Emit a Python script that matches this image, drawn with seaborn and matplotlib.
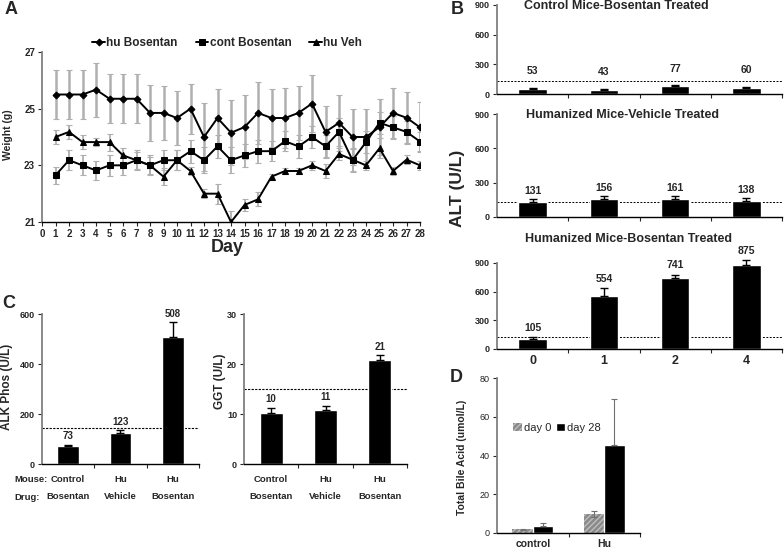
import matplotlib

matplotlib.use("Agg")

import matplotlib.pyplot as plt
import numpy as np
import pandas as pd
import seaborn as sns

W, H = 784, 551

# ---- panel A: body weight ----
days = list(range(1, 29))
hu_bos = [25.5, 25.5, 25.5, 25.67, 25.35, 25.35, 25.35, 24.85, 24.85, 24.67, 25.0, 24.0, 24.67, 24.15,
          24.35, 24.85, 24.67, 24.67, 24.85, 25.18, 24.18, 24.5, 24.0, 24.0, 24.35, 24.85, 24.68, 24.34]
hu_bos_err = [0.88, 0.85, 0.85, 0.95, 0.87, 0.87, 0.87, 1.0, 0.95, 0.95, 0.88, 1.2, 1.03, 1.15,
              1.12, 1.09, 1.03, 1.05, 0.95, 1.0, 0.9, 1.0, 1.0, 1.0, 1.0, 0.88, 0.92, 0.88]
cont_bos = [22.65, 23.18, 23.0, 22.82, 23.0, 23.0, 23.18, 23.0, 23.18, 23.18, 23.5, 23.18, 23.67, 23.18,
            23.35, 23.5, 23.5, 23.85, 23.67, 24.0, 23.67, 24.18, 23.18, 23.82, 24.5, 24.34, 24.18, 23.84]
cont_bos_err = [0.3, 0.35, 0.35, 0.32, 0.37, 0.35, 0.35, 0.35, 0.35, 0.35, 0.4, 0.45, 0.4, 0.45,
                0.4, 0.4, 0.35, 0.35, 0.4, 0.4, 0.4, 0.5, 0.4, 0.4, 0.4, 0.4, 0.4, 0.35]
hu_veh = [24.0, 24.18, 23.82, 23.82, 23.82, 23.35, 23.18, 23.0, 22.6, 23.18, 22.8, 22.0, 22.0, 21.0,
          21.6, 21.8, 22.6, 22.8, 22.8, 23.0, 22.8, 23.4, 23.2, 23.0, 23.6, 22.8, 23.2, 23.0]
hu_veh_err = [0.25, 0.25, 0.25, 0.15, 0.3, 0.25, 0.3, 0.3, 0.3, 0.35, 0.15, 0.15, 0.35, 0.4,
              0.2, 0.25, 0.1, 0.1, 0.1, 0.15, 0.25, 0.2, 0.4, 0.15, 0.35, 0.15, 0.15, 0.15]

# ---- panel B: ALT by week ----
weeks = ["0", "1", "2", "4"]
alt_cont_bos = [53, 43, 77, 60]
alt_cont_bos_err = [8, 6, 10, 8]
alt_hu_veh = [131, 156, 161, 138]
alt_hu_veh_err = [25, 24, 26, 24]
alt_hu_bos = [105, 554, 741, 875]
alt_hu_bos_err = [20, 84, 38, 59]
alt_normal = 130

# ---- panel C: ALK Phos and GGT ----
c_mouse = ["Control", "Hu", "Hu"]
c_drug = ["Bosentan", "Vehicle", "Bosentan"]
alk_vals = [73, 126, 508]
alk_err = [5, 10, 60]
alk_labels = ["73", "123", "508"]
alk_normal = 145
ggt_vals = [10.3, 10.8, 20.9]
ggt_err = [1.0, 0.85, 0.9]
ggt_labels = ["10", "11", "21"]
ggt_normal = 15

# ---- panel D: total bile acid ----
d_groups = ["control", "Hu"]
d_days = ["day 0", "day 28"]
bile_day0 = [2.0, 10.0]
bile_day0_err = [0.3, 1.6]
bile_day28 = [3.4, 45.5]
bile_day28_err = [1.8, 23.8]

sns.set_style("white")
plt.rcParams["font.family"] = ["Liberation Sans", "DejaVu Sans"]
plt.rcParams["font.weight"] = "bold"
plt.rcParams["axes.labelweight"] = "bold"

fig = plt.figure(figsize=(W / 100, H / 100), dpi=100)


def box(l, t, r, b):
    return fig.add_axes([l / W, 1 - b / H, (r - l) / W, (b - t) / H])


def style_axes(ax, size=6.5):
    sns.despine(ax=ax)
    ax.spines["left"].set_color("#808080")
    ax.spines["left"].set_linewidth(1.3)
    ax.spines["bottom"].set_color("black")
    ax.spines["bottom"].set_linewidth(1.0)
    ax.tick_params(axis="both", labelsize=size, length=3, width=0.8, pad=2,
                   bottom=True, left=True, direction="out")
    ax.set_xlabel("")
    ax.set_ylabel("")


def bold_ticks(ax, weight="bold"):
    for lab in ax.get_xticklabels() + ax.get_yticklabels():
        lab.set_fontweight(weight)


def category_ticks(ax, n, labels=None, size=9):
    ax.set_xlim(-0.5, n - 0.5)
    ax.set_xticks(np.arange(n) + 0.5)
    ax.set_xticklabels([])
    ax.set_xticks(range(n), minor=True)
    ax.set_xticklabels(labels if labels else [""] * n, minor=True, fontsize=size, fontweight="bold")
    ax.tick_params(axis="x", which="minor", length=0, pad=4)


def up_errors(ax, errs, color="black", lw=1.0, cap=3):
    bars = ax.containers[0]
    xs = [b.get_x() + b.get_width() / 2 for b in bars]
    hs = [b.get_height() for b in bars]
    eb = ax.errorbar(xs, hs, yerr=[np.zeros(len(errs)), errs], fmt="none", ecolor=color,
                     elinewidth=lw, capsize=cap, capthick=lw, zorder=3)
    for art in eb.get_children():
        art.set_clip_on(False)
    return xs, hs


# ================= A =================
axA = box(42, 52, 420, 222)
series = [
    (hu_bos, hu_bos_err, "D", 3.5, "hu Bosentan", 1.8),
    (cont_bos, cont_bos_err, "s", 4.5, "cont Bosentan", 1.3),
    (hu_veh, hu_veh_err, "^", 4.5, "hu Veh", 1.3),
]
for vals, errs, mk, ms, lab, elw in series:
    axA.errorbar(days, vals, yerr=errs, fmt="none", ecolor="#b0b0b0", elinewidth=elw,
                 capsize=2.2, capthick=0.8, zorder=1)
    sns.lineplot(x=days, y=vals, marker=mk, markersize=ms, color="black", linewidth=1.4,
                 markeredgecolor="black", label=lab, ax=axA, zorder=3)
style_axes(axA, size=7)
axA.set_xlim(0, 28)
axA.set_ylim(21, 27)
axA.set_xticks(range(29))
axA.set_yticks([21, 23, 25, 27])
bold_ticks(axA)
axA.set_xlabel("Day", fontsize=13)
axA.xaxis.set_label_coords(0.49, -(248 - 222) / 170)
axA.xaxis.label.set_va("center")
axA.set_ylabel("Weight (g)", fontsize=7.5)
axA.yaxis.set_label_coords((8 - 42) / 378, (222 - 135) / 170)
axA.yaxis.label.set_va("center")
axA.legend(loc="center", bbox_to_anchor=(0.49, 1 + (52 - 43) / 170), ncol=3, frameon=False,
           fontsize=8.5, handlelength=1.1, handletextpad=0.1, columnspacing=1.5, borderaxespad=0)

# ================= B =================
b_panels = [
    ((5, 94), alt_cont_bos, alt_cont_bos_err, "Control Mice-Bosentan Treated", 0.42, 0.985, 8.5),
    ((114, 217), alt_hu_veh, alt_hu_veh_err, "Humanized Mice-Vehicle Treated", 0.44, 0.99, 2.2),
    ((263, 349), alt_hu_bos, alt_hu_bos_err, "Humanized Mice-Bosentan Treated", 0.46, 1.28, 3.0),
]
for i, ((t, b), vals, errs, title, tx, ty, off) in enumerate(b_panels):
    ax = box(497, t, 782, b)
    sns.barplot(x=weeks, y=vals, color="black", saturation=1, width=0.4, ax=ax)
    xs, hs = up_errors(ax, errs)
    for x, v, e in zip(xs, vals, errs):
        ax.annotate(str(v), (x, v + e), xytext=(0, off), textcoords="offset points",
                    ha="center", va="bottom", fontsize=7.5, fontweight="bold",
                    annotation_clip=False)
    ax.axhline(alt_normal, color="black", linestyle=(0, (2, 1.5)), linewidth=0.7, zorder=0)
    style_axes(ax)
    ax.set_ylim(0, 900)
    ax.set_yticks([0, 300, 600, 900])
    bold_ticks(ax)
    category_ticks(ax, 4, weeks if i == 2 else None)
    ax.text(tx, ty, title, transform=ax.transAxes, ha="center", va="center",
            fontsize=9, fontweight="bold")
fig.text(458 / W, 1 - 188 / H, "ALT (U/L)", rotation=90, ha="center", va="center",
         fontsize=12.5, fontweight="bold")

# ================= C =================
c_keys = [f"{m} {d} {k}" for k, (m, d) in enumerate(zip(c_mouse, c_drug))]
c_panels = [
    ((42, 199), alk_vals, alk_err, alk_labels, alk_normal, [0, 200, 400, 600], "ALK Phos (U/L)",
     (7, 387)),
    ((244, 407), ggt_vals, ggt_err, ggt_labels, ggt_normal, [0, 10, 20, 30], "GGT (U/L)",
     (220, 381)),
]
for (l, r), vals, errs, labs, normal, yt, ylab, (lx, ly) in c_panels:
    ax = box(l, 314, r, 464)
    sns.barplot(x=c_keys, y=vals, color="black", saturation=1, width=0.42, ax=ax)
    xs, hs = up_errors(ax, errs, cap=3)
    for x, v, e, s in zip(xs, vals, errs, labs):
        ax.annotate(s, (x, v + e), xytext=(0, 2.5), textcoords="offset points",
                    ha="center", va="bottom", fontsize=7, fontweight="bold")
    ax.axhline(normal, color="black", linestyle=(0, (2, 1.2)), linewidth=0.8, zorder=0)
    style_axes(ax)
    ax.set_ylim(yt[0], yt[-1])
    ax.set_yticks(yt)
    bold_ticks(ax)
    category_ticks(ax, 3)
    for x, m, d in zip(range(3), c_mouse, c_drug):
        ax.text(x, -15 / 150, m, transform=ax.get_xaxis_transform(), ha="center", va="center",
                fontsize=6.8, fontweight="bold")
        ax.text(x, -33 / 150, d, transform=ax.get_xaxis_transform(), ha="center", va="center",
                fontsize=6.8, fontweight="bold")
    ax.set_ylabel(ylab, fontsize=8.5)
    ax.yaxis.set_label_coords((lx - l) / (r - l), (464 - ly) / 150)
    ax.yaxis.label.set_va("center")
fig.text(14 / W, 1 - 479 / H, "Mouse:", ha="left", va="center", fontsize=6.8, fontweight="bold")
fig.text(14 / W, 1 - 497 / H, "Drug:", ha="left", va="center", fontsize=6.8, fontweight="bold")

# ================= D =================
dfD = pd.DataFrame({
    "group": d_groups * 2,
    "day": [d_days[0]] * 2 + [d_days[1]] * 2,
    "value": bile_day0 + bile_day28,
})
axD = box(497, 378, 640, 533)
sns.barplot(data=dfD, x="group", y="value", hue="day", palette=["#8a8a8a", "black"],
            saturation=1, width=0.57, legend=False, ax=axD)
for bar in axD.containers[0]:
    bar.set_hatch("//////")
    bar.set_edgecolor("#bdbdbd")
    bar.set_linewidth(0)
for k, (cont, errs) in enumerate(zip(axD.containers, [bile_day0_err, bile_day28_err])):
    xs = [b.get_x() + b.get_width() / 2 for b in cont]
    hs = [b.get_height() for b in cont]
    yerr = errs if k == 0 else [np.zeros(len(errs)), errs]
    axD.errorbar(xs, hs, yerr=yerr, fmt="none", ecolor="#707070", elinewidth=0.8,
                 capsize=2.5, capthick=0.8, zorder=3)
style_axes(axD)
axD.set_ylim(0, 80)
axD.set_yticks([0, 20, 40, 60, 80])
bold_ticks(axD, "normal")
category_ticks(axD, 2, d_groups, size=7.5)
axD.set_ylabel("Total Bile Acid (umol/L)", fontsize=7.5)
axD.yaxis.set_label_coords((462 - 497) / 143, (533 - 457) / 155)
axD.yaxis.label.set_va("center")
axD.legend([axD.containers[0][0], axD.containers[1][0]], d_days, loc="center left",
           bbox_to_anchor=(0.08, 0.68), ncol=2, frameon=False, handlelength=0.8, handleheight=0.8,
           handletextpad=0.2, columnspacing=0.4, borderaxespad=0,
           prop={"size": 8, "weight": "normal"})

# ---- panel letters ----
for letter, x, y in [("A", 11, 10), ("B", 457, 10), ("C", 9, 304), ("D", 456, 378)]:
    fig.text(x / W, 1 - y / H, letter, ha="center", va="center", fontsize=13, fontweight="bold")

fig.savefig("out.png", dpi=100)
